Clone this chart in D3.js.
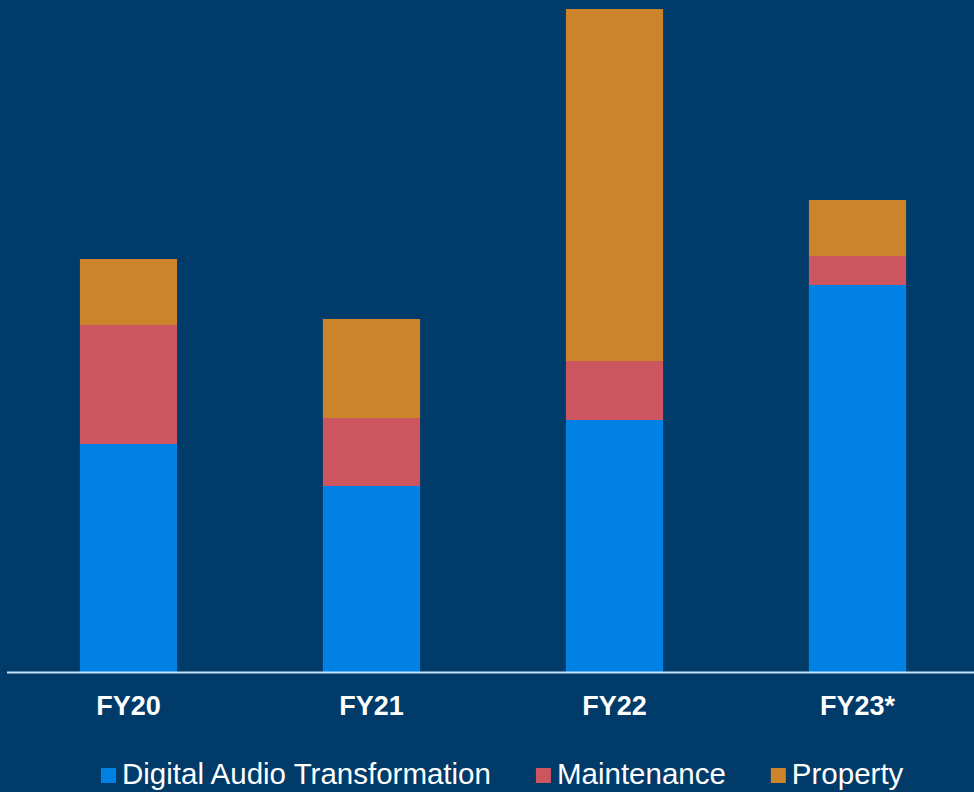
<!DOCTYPE html>
<html>
<head>
<meta charset="utf-8">
<script src="https://cdn.jsdelivr.net/npm/d3@7"></script>
<style>
  html, body { margin: 0; padding: 0; background: #003b69; }
  svg { display: block; }
</style>
</head>
<body>
<div id="chart"></div>
<script>
// values (arbitrary units)
var categories = ["FY20", "FY21", "FY22", "FY23*"];
var seriesNames = ["Digital Audio Transformation", "Maintenance", "Property"];
var digitalAudio = [22.8, 18.6, 25.2, 38.7];
var maintenance = [11.9, 6.8, 5.9, 2.9];
var property = [6.6, 9.9, 35.2, 5.6];
var colors = ["#0081e3", "#cd5560", "#cb8429"];

var width = 974, height = 792;
var margins = { top: 0, right: 0, bottom: 120, left: 7 };
var baseY = 672;

var svg = d3.select('#chart').append('svg')
    .attr('width', width)
    .attr('height', height);

svg.append('rect')
    .attr('width', width)
    .attr('height', height)
    .attr('fill', '#003b69');

var table = categories.map(function (c, i) {
    return { cat: c, "Digital Audio Transformation": digitalAudio[i], "Maintenance": maintenance[i], "Property": property[i] };
});

var stacked = d3.stack().keys(seriesNames)(table);

var xScale = d3.scaleBand()
    .domain(categories)
    .range([margins.left, 979])
    .paddingInner(0.6)
    .paddingOuter(0.3);

var yScale = d3.scaleLinear()
    .domain([0, 70])
    .range([baseY, baseY - 700]);

var layers = svg.append('g').attr('class', 'items')
    .selectAll('g.layer')
    .data(stacked)
    .enter().append('g')
    .attr('class', 'layer')
    .attr('fill', function (d, i) { return colors[i]; });

layers.selectAll('rect')
    .data(function (d) { return d; })
    .enter().append('rect')
    .attr('x', function (d) { return xScale(d.data.cat); })
    .attr('y', function (d) { return yScale(d[1]); })
    .attr('width', xScale.bandwidth())
    .attr('height', function (d) { return yScale(d[0]) - yScale(d[1]); });

// baseline axis
var xAxis = d3.axisBottom(xScale).tickSize(0).tickPadding(24);
var axisG = svg.append('g')
    .attr('class', 'xAxis')
    .attr('transform', 'translate(0,' + baseY + ')')
    .call(xAxis);

axisG.select('.domain')
    .attr('d', 'M' + margins.left + ',0.5H' + width)
    .attr('stroke', '#c4e2fb')
    .attr('stroke-width', 2);

axisG.selectAll('text')
    .attr('fill', '#ffffff')
    .style('font-family', '"Liberation Sans", Arial, sans-serif')
    .style('font-weight', 'bold')
    .style('font-size', '27px');

// legend
var legend = svg.append('g').attr('class', 'chart-legend');
var lx = 101;
seriesNames.forEach(function (name, i) {
    var item = legend.append('g').attr('transform', 'translate(' + lx + ',0)');
    item.append('rect')
        .attr('x', 0)
        .attr('y', 768)
        .attr('width', 15)
        .attr('height', 15)
        .attr('fill', colors[i]);
    var t = item.append('text')
        .attr('x', 21)
        .attr('y', 784)
        .attr('fill', '#ffffff')
        .style('font-family', '"Liberation Sans", Arial, sans-serif')
        .style('font-size', '29.5px')
        .text(name);
    lx += 21 + t.node().getComputedTextLength() + 45;
});
</script>
</body>
</html>
